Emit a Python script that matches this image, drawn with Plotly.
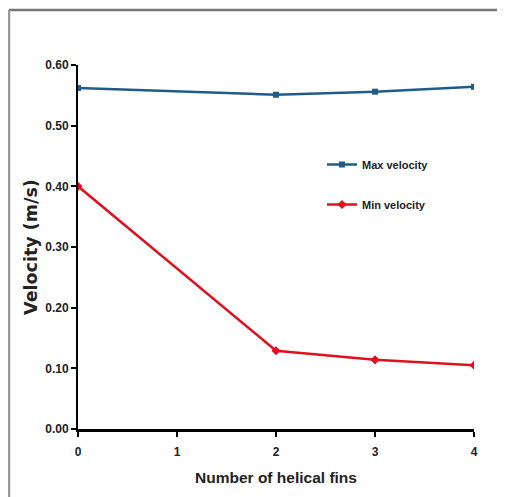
import plotly.graph_objects as go

fins = [0, 2, 3, 4]
max_velocity = [0.562, 0.551, 0.556, 0.564]
min_velocity = [0.400, 0.129, 0.114, 0.105]
x_ticks = [0, 1, 2, 3, 4]
y_ticks = [0.0, 0.1, 0.2, 0.3, 0.4, 0.5, 0.6]

FONT = "Liberation Sans Narrow, Arial Narrow, Liberation Sans, Arial"

fig = go.Figure()
fig.add_trace(go.Scatter(
    x=fins, y=max_velocity, mode="lines+markers", name="<b>Max velocity</b>",
    line=dict(color="#1F5C8A", width=2.5),
    marker=dict(symbol="square", size=6, color="#1F5C8A"),
    legendgroup="a",
))
fig.add_trace(go.Scatter(
    x=fins, y=min_velocity, mode="lines+markers", name="<b>Min velocity</b>",
    line=dict(color="#E0101E", width=2.5),
    marker=dict(symbol="diamond", size=7, color="#E0101E"),
    legendgroup="b",
))

OFF = 8  # page body margin
W, H = 505, 497
# plot area in page pixels: x 78..474, y 65..429
L = 78 - OFF
T = 65 - OFF
R = W - (474 - OFF)
B = H - (429 - OFF)
pw, ph = W - L - R, H - T - B

def px(xp):
    return (xp - OFF - L) / pw

def py(yp):
    return (H - B - (yp - OFF)) / ph

fig.update_layout(
    width=W, height=H,
    margin=dict(l=L, r=R, t=T, b=B, pad=0),
    paper_bgcolor="white", plot_bgcolor="white",
    font=dict(family=FONT, color="#222222"),
    showlegend=True,
    legend=dict(
        x=px(322), y=py(150), xanchor="left", yanchor="top",
        bgcolor="rgba(0,0,0,0)", tracegroupgap=21,
        font=dict(size=11, family=FONT, color="#222222"),
        itemwidth=30,
    ),
    xaxis=dict(
        range=[0, 4], tickvals=x_ticks, ticktext=[str(v) for v in x_ticks],
        showgrid=False, zeroline=False, showline=True, linecolor="black", linewidth=2.5,
        ticks="outside", ticklen=5, tickwidth=1.5, tickcolor="black",
        ticklabelstandoff=5,
        tickfont=dict(size=12, family=FONT, weight="bold", color="#222222"),
        title=dict(text="<b>Number of helical fins</b>",
                   font=dict(size=15.5, family="Liberation Sans, Arial", color="#222222"),
                   standoff=14),
    ),
    yaxis=dict(
        range=[0, 0.6], tickvals=y_ticks, ticktext=[f"{v:.2f}" for v in y_ticks],
        showgrid=False, zeroline=False, showline=True, linecolor="black", linewidth=2,
        ticks="outside", ticklen=5, tickwidth=1.5, tickcolor="black",
        tickfont=dict(size=12, family=FONT, weight="bold", color="#222222"),
        title=dict(text="<b>Velocity (m/s)</b>",
                   font=dict(size=17.5, family="DejaVu Sans, Liberation Sans", color="#222222"),
                   standoff=3),
    ),
)

# outer frame (left and top edges visible)
fig.add_shape(type="line", xref="paper", yref="paper",
              x0=px(9), x1=px(520), y0=py(10), y1=py(10),
              line=dict(color="#777777", width=2.5))
fig.add_shape(type="line", xref="paper", yref="paper",
              x0=px(9), x1=px(9), y0=py(10), y1=py(510),
              line=dict(color="#999999", width=2.5))

fig.write_html("out.html")
